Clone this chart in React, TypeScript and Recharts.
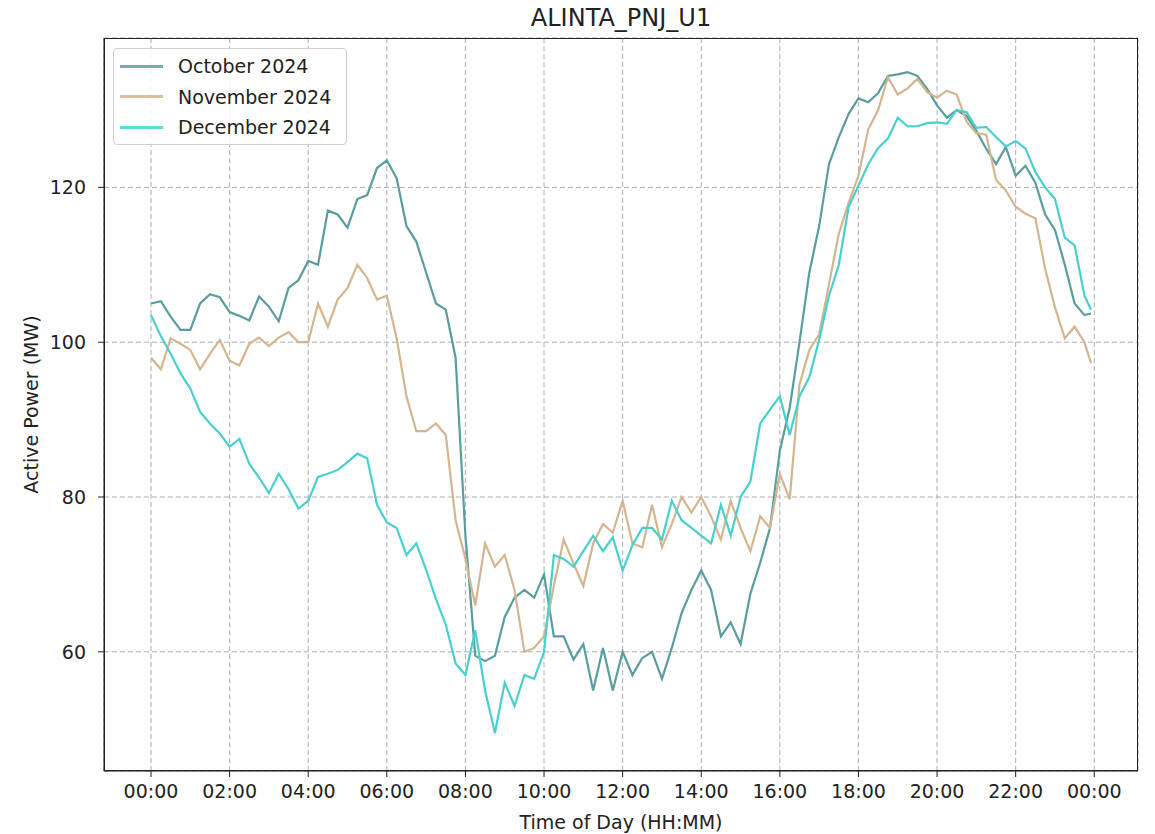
import { LineChart, Line, XAxis, YAxis, CartesianGrid, Legend } from "recharts";

// 15-minute samples, last one at 23:55
const minutes = Array.from({ length: 96 }, (_, i) => i * 15).concat(1435);

const october = [
  105, 105.3, 103.3, 101.6, 101.6, 105, 106.2, 105.8,
  103.9, 103.4, 102.8, 105.9, 104.6, 102.7, 107, 108,
  110.5, 110, 117, 116.5, 114.8, 118.5, 119, 122.5,
  123.5, 121.2, 115, 113, 109, 105, 104.2, 98,
  75, 59.5, 58.8, 59.5, 64.5, 67, 68, 67,
  70, 62, 62, 59, 61, 55, 60.5, 55,
  60, 57, 59.2, 60, 56.5, 60.5, 65, 68,
  70.5, 68, 62, 63.8, 61, 67.5, 71.5, 76,
  86, 91.5, 100, 109, 115, 123, 126.5, 129.5,
  131.5, 131, 132.2, 134.4, 134.6, 134.9, 134.4, 132.7,
  130.6, 129, 130, 129.2, 127.3, 125, 123, 125.2,
  121.5, 122.8, 120.6, 116.5, 114.5, 110, 105, 103.5,
  103.7,
];

const november = [
  98, 96.5, 100.5, 99.8, 99, 96.5, 98.5, 100.3,
  97.6, 97, 99.8, 100.6, 99.5, 100.6, 101.3, 100,
  100, 105, 102, 105.5, 107, 110, 108.3, 105.5,
  106, 100.5, 93, 88.5, 88.5, 89.5, 88, 77,
  72, 66, 74, 71, 72.5, 68, 60, 60.5,
  62, 68.5, 74.5, 71.4, 68.5, 74, 76.5, 75.4,
  79.5, 74, 73.5, 79, 73.5, 76.5, 80, 78,
  80, 77.5, 74.5, 79.5, 76, 73, 77.5, 76,
  83, 79.7, 94.5, 99, 101, 107.5, 114, 118,
  121.5, 127.5, 130, 134.2, 132, 132.8, 134, 132.3,
  131.6, 132.5, 132, 128.5, 127, 126.8, 121, 119.6,
  117.5, 116.6, 116, 109.5, 104.5, 100.5, 102, 100,
  97.3,
];

const december = [
  103.5, 100.8, 98.5, 96, 94, 91, 89.5, 88.2,
  86.5, 87.5, 84.3, 82.5, 80.5, 83, 81, 78.5,
  79.5, 82.6, 83, 83.5, 84.5, 85.6, 85, 79,
  76.7, 76, 72.5, 74, 70.6, 66.8, 63.5, 58.5,
  57, 62.8, 55, 49.5, 56, 53, 57, 56.5,
  60, 72.5, 72, 71, 73, 75, 73, 74.8,
  70.5, 73.8, 76, 76, 74.5, 79.5, 77, 76,
  75, 74, 79, 75, 80, 82, 89.5, 91.3,
  93, 88, 93, 95.5, 100.3, 106, 110, 117.5,
  120.2, 123, 125.1, 126.3, 129, 127.9, 127.9, 128.3,
  128.4, 128.2, 130, 129.7, 127.7, 127.8, 126.5, 125.3,
  126, 125, 122, 120, 118.5, 113.5, 112.5, 106,
  104.2,
];

const xTicks = [0, 120, 240, 360, 480, 600, 720, 840, 960, 1080, 1200, 1320, 1440];
const xTickLabels = [
  "00:00", "02:00", "04:00", "06:00", "08:00", "10:00", "12:00",
  "14:00", "16:00", "18:00", "20:00", "22:00", "00:00",
];
const yTicks = [60, 80, 100, 120];

const seriesNames = ["October 2024", "November 2024", "December 2024"];
const seriesColors = ["#5a9d9f", "#d4b58f", "#48d1cc"];

const data = minutes.map((t, i) => ({
  t,
  oct: october[i],
  nov: november[i],
  dec: december[i],
}));

const font = "'DejaVu Sans', sans-serif";

function LegendBox() {
  return (
    <div
      style={{
        width: 234,
        height: 97,
        boxSizing: "border-box",
        border: "1px solid #d0d0d0",
        borderRadius: 4,
        background: "rgba(255,255,255,0.85)",
        padding: "2px 0 0 6px",
        fontFamily: font,
        fontSize: 19,
        color: "#222",
      }}
    >
      {seriesNames.map((name, i) => (
        <div key={name} style={{ display: "flex", alignItems: "center", height: 30.5 }}>
          <div style={{ width: 43, height: 3, background: seriesColors[i], opacity: 0.85 }} />
          <span style={{ marginLeft: 15 }}>{name}</span>
        </div>
      ))}
    </div>
  );
}

export default function App() {
  const tickStyle = { fill: "#222", fontSize: 19, fontFamily: font };
  return (
    <div style={{ position: "absolute", left: 0, top: 0, width: 1155, height: 834, background: "#fff" }}>
      <div
        style={{
          position: "absolute",
          top: 4,
          left: 104,
          width: 1034,
          textAlign: "center",
          fontFamily: font,
          fontSize: 24,
          color: "#222",
        }}
      >
        ALINTA_PNJ_U1
      </div>
      <LineChart
        width={1155}
        height={834}
        data={data}
        margin={{ top: 38, right: 17, left: 24, bottom: 0 }}
      >
        <CartesianGrid stroke="#b0b0b0" strokeDasharray="5 3" />
        <XAxis
          dataKey="t"
          type="number"
          domain={[-71.75, 1506.75]}
          ticks={xTicks}
          allowDataOverflow
          tickFormatter={(v: number) => xTickLabels[xTicks.indexOf(v)]}
          tick={tickStyle}
          tickSize={6}
          tickMargin={8}
          height={63}
          stroke="#222"
          label={{
            value: "Time of Day (HH:MM)",
            position: "insideBottom",
            offset: 5,
            style: { fill: "#222", fontSize: 19, fontFamily: font },
          }}
        />
        <YAxis
          domain={[44.6, 139.3]}
          ticks={yTicks}
          allowDataOverflow
          tick={tickStyle}
          tickSize={6}
          tickMargin={12}
          width={80}
          stroke="#222"
          label={{
            value: "Active Power (MW)",
            angle: -90,
            position: "insideLeft",
            offset: 7,
            style: { fill: "#222", fontSize: 19, fontFamily: font, textAnchor: "middle" },
          }}
        />
        <Legend
          layout="horizontal"
          verticalAlign="middle"
          align="center"
          content={() => <LegendBox />}
          wrapperStyle={{ position: "absolute", left: 113, top: 48, width: 234, height: 97 }}
        />
        <Line
          dataKey="oct"
          stroke={seriesColors[0]}
          strokeWidth={2.2}
          dot={false}
          isAnimationActive={false}
        />
        <Line
          dataKey="nov"
          stroke={seriesColors[1]}
          strokeWidth={2.2}
          dot={false}
          isAnimationActive={false}
        />
        <Line
          dataKey="dec"
          stroke={seriesColors[2]}
          strokeWidth={2.2}
          dot={false}
          isAnimationActive={false}
        />
      </LineChart>
      {/* axes frame */}
      <div
        style={{
          position: "absolute",
          left: 104,
          top: 38,
          width: 1034,
          height: 733,
          boxSizing: "border-box",
          border: "1px solid #222",
          pointerEvents: "none",
        }}
      />
    </div>
  );
}
